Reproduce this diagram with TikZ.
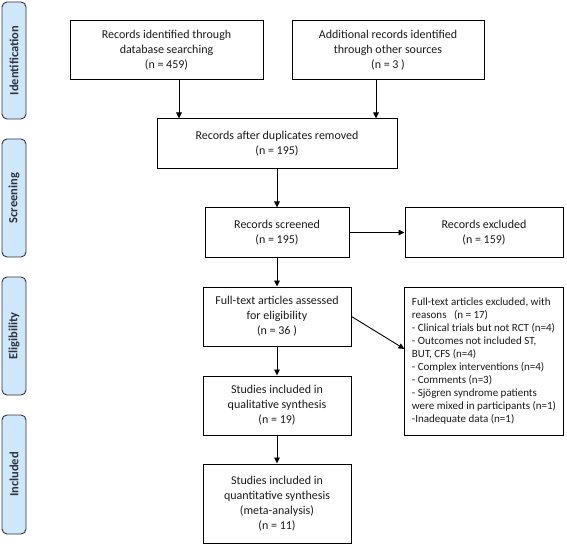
\documentclass[tikz,border=0pt]{standalone}
\usepackage{fontspec}
\setmainfont{Carlito}
\usetikzlibrary{arrows.meta}
\definecolor{tabfill}{HTML}{CFE7FA}
\definecolor{tabdraw}{HTML}{2E3440}
\definecolor{txt}{HTML}{1A1A1A}
\begin{document}
\begin{tikzpicture}[x=1pt,y=-1pt,
  flowbox/.style={draw=black,line width=1pt,align=center,inner sep=2pt,
    font=\fontsize{12}{15}\selectfont,text=txt},
  notebox/.style={draw=black,line width=1pt,align=left,inner xsep=7pt,
    font=\fontsize{11}{13}\selectfont,text=txt,minimum width=158pt,minimum height=148pt},
  tabbox/.style={draw=tabdraw,fill=tabfill,line width=0.9pt,rounded corners=5pt,
    minimum width=24pt,inner sep=0pt},
  tablabel/.style={rotate=90,font=\fontsize{12.5}{15}\selectfont\bfseries,text=tabdraw},
  arr/.style={line width=0.9pt,-{Triangle[length=6pt,width=5.5pt]}}]
\useasboundingbox (0,0) rectangle (567,545);
% side tabs
\node[tabbox,minimum height=117pt] (t1) at (14,60.5) {};
\node[tablabel] (l1) at (t1.center) {Identification};
\node[tabbox,minimum height=118pt] (t2) at (14,198) {};
\node[tablabel] (l2) at (t2.center) {Screening};
\node[tabbox,minimum height=118pt] (t3) at (14,336) {};
\node[tablabel] (l3) at (t3.center) {Eligibility};
\node[tabbox,minimum height=119pt] (t4) at (14,474.5) {};
\node[tablabel] (l4) at (t4.center) {Included};
% boxes
\node[flowbox,minimum width=193pt,minimum height=59pt] (b1) at (166.5,50.5)
  {Records identified through\\database searching\\(n = 459)};
\node[flowbox,minimum width=192pt,minimum height=59pt] (b2) at (388,50.5)
  {Additional records identified\\through other sources\\(n = 3 )};
\node[flowbox,minimum width=240pt,minimum height=50pt] (b3) at (277,144)
  {Records after duplicates removed\\(n = 195)};
\node[flowbox,minimum width=144pt,minimum height=49pt] (scr) at (277,232.5)
  {Records screened\\(n = 195)};
\node[flowbox,minimum width=158pt,minimum height=49pt] (exc) at (484,232.5)
  {Records excluded\\(n = 159)};
\node[flowbox,minimum width=148pt,minimum height=59pt] (ft) at (277,316.5)
  {Full-text articles assessed\\for eligibility\\(n = 36 )};
\node[notebox] (rs) at (484,361)
  {Full-text articles excluded, with\\reasons \ \ (n = 17)\\- Clinical trials but not RCT (n=4)\\- Outcomes not included ST,\\BUT, CFS (n=4)\\- Complex interventions (n=4)\\- Comments (n=3)\\- Sjögren syndrome patients\\were mixed in participants (n=1)\\-Inadequate data (n=1)};
\node[flowbox,minimum width=148pt,minimum height=59pt] (ql) at (277,405.5)
  {Studies included in\\qualitative synthesis\\(n = 19)};
\node[flowbox,minimum width=148pt,minimum height=79pt] (qn) at (277,503.5)
  {Studies included in\\quantitative synthesis\\(meta-analysis)\\(n = 11)};
% connectors
\coordinate (c1) at (179,0);
\coordinate (c2) at (376,0);
\draw[arr] (c1 |- b1.south) -- (c1 |- b3.north);
\draw[arr] (c2 |- b2.south) -- (c2 |- b3.north);
\draw[arr] (b3) -- (scr);
\draw[arr] (scr) -- (exc);
\draw[arr] (scr) -- (ft);
\draw[arr] (ft.east) -- ([yshift=12pt]rs.west);
\draw[arr] (ft) -- (ql);
\draw[arr] (ql) -- (qn);
\end{tikzpicture}
\end{document}
